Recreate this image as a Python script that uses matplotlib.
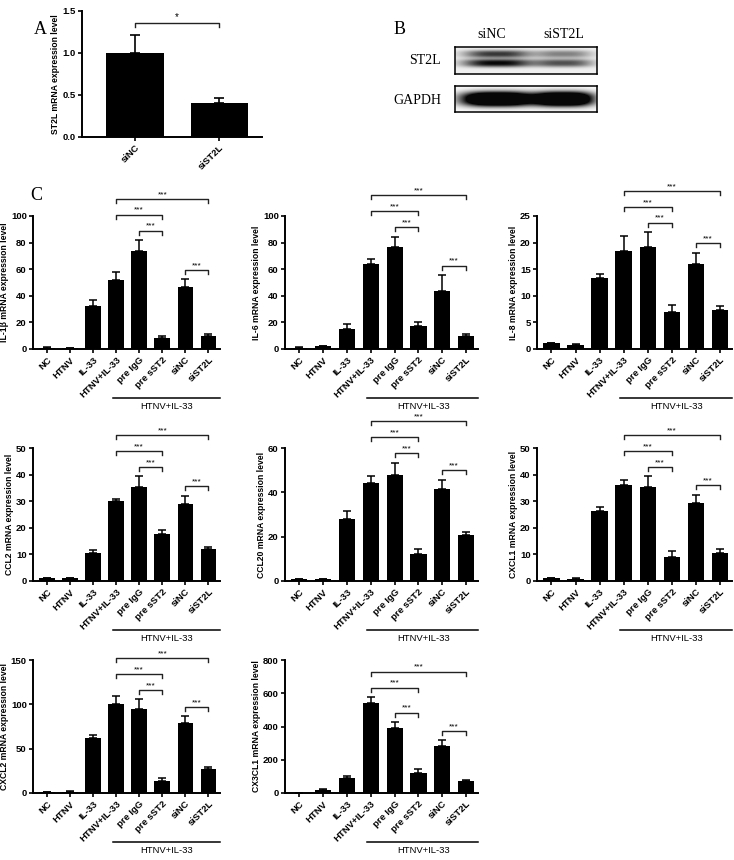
import numpy as np
import matplotlib.pyplot as plt
from matplotlib.transforms import blended_transform_factory

plt.rcParams['font.family'] = ['Liberation Sans', 'DejaVu Sans']

W, H = 734, 860

# ---------------- data ----------------
groups = ["NC", "HTNV", "IL-33", "HTNV+IL-33", "pre IgG", "pre sST2", "siNC", "siST2L"]

# panel A
st2l_groups = ["siNC", "siST2L"]
st2l_mean = [1.00, 0.40]
st2l_err = [0.22, 0.06]

# panel B (band darkness per lane: siNC, siST2L)
blot_lanes = ["siNC", "siST2L"]
st2l_upper_band = [0.75, 0.45]
st2l_lower_band = [0.95, 0.65]
gapdh_band = [1.0, 1.0]

# panel C
il1b_mean = [1.0, 0.9, 32.3, 51.9, 73.7, 8.0, 46.9, 10.0]
il1b_err = [0.3, 0.2, 4.5, 5.7, 8.3, 1.8, 5.7, 1.0]
il6_mean = [1.0, 2.0, 15.0, 64.0, 76.5, 17.0, 43.5, 10.0]
il6_err = [0.3, 0.4, 3.5, 3.4, 8.0, 3.5, 12.2, 1.3]
il8_mean = [1.1, 0.8, 13.4, 18.5, 19.1, 6.9, 16.0, 7.4]
il8_err = [0.05, 0.05, 0.7, 2.7, 2.9, 1.3, 2.1, 0.6]
ccl2_mean = [1.0, 1.1, 10.7, 30.2, 35.2, 17.7, 28.9, 12.1]
ccl2_err = [0.2, 0.2, 0.8, 0.5, 4.1, 1.4, 3.2, 0.5]
ccl20_mean = [0.9, 0.8, 28.0, 44.2, 47.7, 12.1, 41.6, 20.8]
ccl20_err = [0.2, 0.2, 3.4, 3.0, 5.7, 2.2, 4.1, 1.5]
cxcl1_mean = [1.1, 0.9, 26.3, 36.1, 35.3, 9.1, 29.5, 10.6]
cxcl1_err = [0.1, 0.1, 1.6, 1.9, 4.0, 2.1, 3.0, 1.4]
cxcl2_mean = [1.0, 1.5, 62.2, 100.6, 94.6, 13.6, 78.4, 27.1]
cxcl2_err = [0.2, 0.3, 3.0, 8.4, 11.3, 3.0, 8.3, 2.3]
cx3cl1_mean = [2.0, 20.0, 90.0, 540.0, 388.0, 120.0, 283.0, 72.0]
cx3cl1_err = [0.5, 2.0, 14.0, 38.0, 40.0, 26.0, 34.0, 5.0]

genes = ["IL-1β", "IL-6", "IL-8", "CCL2", "CCL20", "CXCL1", "CXCL2", "CX3CL1"]
means = [il1b_mean, il6_mean, il8_mean, ccl2_mean, ccl20_mean, cxcl1_mean, cxcl2_mean, cx3cl1_mean]
errs = [il1b_err, il6_err, il8_err, ccl2_err, ccl20_err, cxcl1_err, cxcl2_err, cx3cl1_err]
ymaxs = [100, 100, 25, 50, 60, 50, 150, 800]
ysteps = [20, 20, 5, 10, 20, 10, 50, 200]

# pixel boxes (left, top, right, bottom)
cols = [(33, 220), (285, 478), (537, 732)]
rows = [(216, 349), (448, 581), (660, 793)]

FS = 6.8
LFS = 6.2


def add_ax(l, t, r, b):
    return fig.add_axes([l / W, 1 - b / H, (r - l) / W, (b - t) / H])


def style(ax):
    for s in ["top", "right"]:
        ax.spines[s].set_visible(False)
    for s in ["left", "bottom"]:
        ax.spines[s].set_linewidth(1.4)
    ax.tick_params(direction="out", length=3, width=1.2, labelsize=FS, pad=1.5)
    for lab in ax.get_yticklabels():
        lab.set_fontweight("bold")


def bracket(ax, x1, x2, y, h, label, fs=6.0):
    ax.plot([x1, x1, x2, x2], [y - h, y, y, y - h], color="#222222", lw=1.0, clip_on=False)
    ax.text((x1 + x2) / 2, y + h * 0.2, label, ha="center", va="bottom", fontsize=fs, clip_on=False)


fig = plt.figure(figsize=(W / 100, H / 100), dpi=100)

# ---------------- panel A ----------------
axA = add_ax(82, 11, 262, 137)
xa = np.arange(len(st2l_groups))
axA.bar(xa, st2l_mean, width=0.68, color="black")
axA.errorbar(xa, st2l_mean, yerr=[np.zeros(2), st2l_err], fmt="none", ecolor="black", capsize=3.5, elinewidth=1.2, capthick=1.2)
axA.set_ylim(0, 1.5)
axA.set_yticks([0, 0.5, 1.0, 1.5])
axA.set_yticklabels(["0.0", "0.5", "1.0", "1.5"])
axA.set_xlim(-0.63, 1.51)
axA.set_xticks(xa)
axA.set_xticklabels(st2l_groups, rotation=45, ha="right", rotation_mode="anchor", fontweight="bold")
axA.set_ylabel("ST2L mRNA expression level", fontsize=LFS, fontweight="bold", labelpad=2)
style(axA)
topsA = np.array(st2l_mean) + np.array(st2l_err)
bracket(axA, 0, 1, topsA.max() + 0.09 * 1.5, 0.03 * 1.5, "*", fs=7)
fig.text(40 / W, 1 - 30 / H, "A", fontsize=13, family="Liberation Serif", ha="center", va="center")

# ---------------- panel B ----------------
fig.text(400 / W, 1 - 30 / H, "B", fontsize=13, family="Liberation Serif", ha="center", va="center")
for name, xc in zip(blot_lanes, [492, 564]):
    fig.text(xc / W, 1 - 34 / H, name, fontsize=10, family="Liberation Serif", ha="center", va="center")
fig.text(441 / W, 1 - 60 / H, "ST2L", fontsize=10, family="Liberation Serif", ha="right", va="center")
fig.text(441 / W, 1 - 100 / H, "GAPDH", fontsize=10, family="Liberation Serif", ha="right", va="center")


def blot(box, bands, haze):
    l, t, r, b = box
    ax = add_ax(l, t, r, b)
    xx, yy = np.meshgrid(np.arange(l, r), np.arange(t, b))
    dark = np.full(xx.shape, haze)
    for cx, hw, cy, sy, amp in bands:
        dark += amp * np.exp(-np.abs((xx - cx) / hw) ** 3) * np.exp(-np.abs((yy - cy) / sy) ** 2.5)
    img = 1 - np.clip(dark, 0, 1) * 0.97
    ax.imshow(img, cmap="gray", vmin=0, vmax=1, aspect="auto", interpolation="bilinear")
    ax.set_xticks([])
    ax.set_yticks([])
    for s in ax.spines.values():
        s.set_linewidth(1.1)


lane_x = [497, 563]
blot((455, 47, 597, 74),
     [(lane_x[i], 33 if i == 0 else 28, 53.5, 3.8, st2l_upper_band[i]) for i in range(2)]
     + [(lane_x[i], 34 if i == 0 else 29, 62.5, 4.0, st2l_lower_band[i]) for i in range(2)],
     0.06)
blot((455, 86, 597, 112),
     [(lane_x[i], 35 if i == 0 else 29, 98.5, 7.0, gapdh_band[i] * 2.0) for i in range(2)],
     0.02)

# ---------------- panel C ----------------
fig.text(36 / W, 1 - 195 / H, "C", fontsize=13, family="Liberation Serif", ha="center", va="center")
x = np.arange(len(groups))
for k, gene in enumerate(genes):
    r, c = divmod(k, 3)
    ax = add_ax(cols[c][0], rows[r][0], cols[c][1], rows[r][1])
    m = np.array(means[k])
    e = np.array(errs[k])
    ymax = ymaxs[k]
    ax.bar(x, m, width=0.68, color="black")
    ax.errorbar(x, m, yerr=[np.zeros(len(m)), e], fmt="none", ecolor="black", capsize=2.8, elinewidth=1.1, capthick=1.1)
    ax.set_ylim(0, ymax)
    ax.set_yticks(np.arange(0, ymax + 1e-9, ysteps[k]))
    ax.set_xlim(-0.6, 7.5)
    ax.set_xticks(x)
    ax.set_xticklabels(groups, rotation=45, ha="right", rotation_mode="anchor", fontweight="bold")
    ax.set_ylabel(f"{gene} mRNA expression level", fontsize=LFS, fontweight="bold", labelpad=1.5)
    style(ax)

    # group line under the tick labels
    tr = blended_transform_factory(ax.transData, ax.transAxes)
    ax.plot([2.85, 7.5], [-0.37, -0.37], color="black", lw=1.1, transform=tr, clip_on=False)
    ax.text(5.2, -0.395, "HTNV+IL-33", transform=tr, ha="center", va="top", fontsize=6.8)

    # significance brackets
    tops = m + e
    d, gap, h = 0.07 * ymax, 0.12 * ymax, 0.03 * ymax
    b3 = max(tops[4], tops[5]) + d
    b2 = max(b3 + gap, tops[3:6].max() + d)
    b1 = max(b2 + gap, tops[3:8].max() + d)
    b4 = max(tops[6], tops[7]) + d
    bracket(ax, 3, 7, b1, h, "***")
    bracket(ax, 3, 5, b2, h, "***")
    bracket(ax, 4, 5, b3, h, "***")
    bracket(ax, 6, 7, b4, h, "***")

fig.savefig("out.png", dpi=100)
